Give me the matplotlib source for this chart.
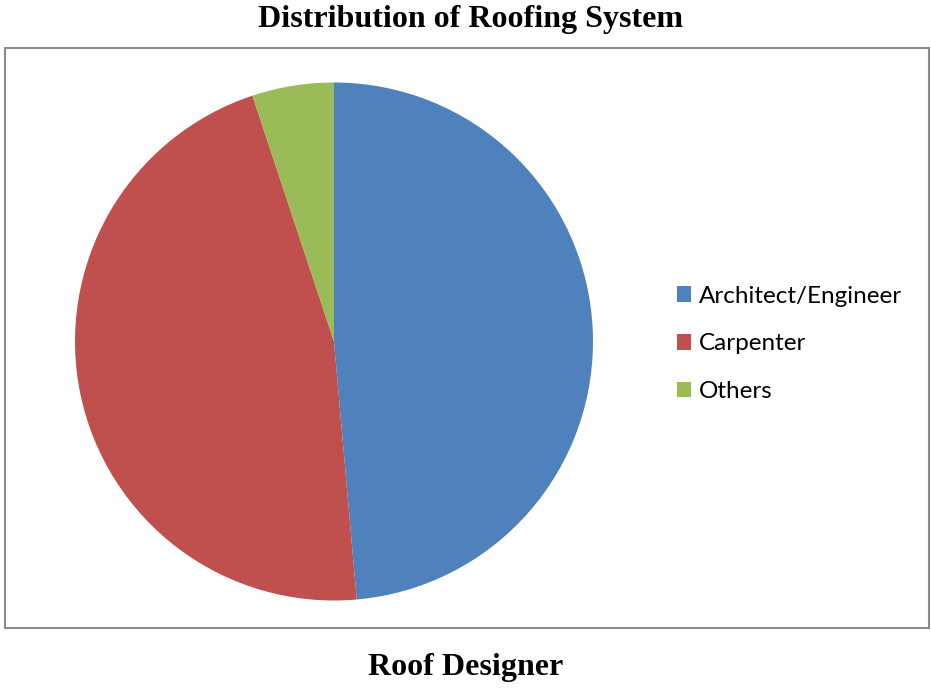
import matplotlib
matplotlib.use("Agg")
import matplotlib.pyplot as plt
from matplotlib.patches import Rectangle, Patch

categories = ["Architect/Engineer", "Carpenter", "Others"]
shares = [48.6, 46.3, 5.1]
colors = ["#4F81BD", "#C0504D", "#9BBB59"]

W, H = 931, 689
fig = plt.figure(figsize=(W / 100, H / 100), dpi=100)

def fx(px):
    return px / W

def fy(py):
    return 1 - py / H

# chart frame
fig.patches.append(Rectangle((fx(5), fy(628)), fx(924), 580 / H,
                             transform=fig.transFigure, fill=False,
                             edgecolor="#8c8c8c", linewidth=1.5))

fig.text(fx(470), fy(19), "Distribution of Roofing System", ha="center", va="center",
         family="Liberation Serif", fontweight="bold", fontsize=23)
fig.text(fx(466), fy(668), "Roof Designer", ha="center", va="center",
         family="Liberation Serif", fontweight="bold", fontsize=23)

cx, cy, r = 334, 341.5, 259
ax = fig.add_axes([fx(cx - r), fy(cy + r), 2 * r / W, 2 * r / H])
ax.pie(shares, colors=colors, startangle=90, counterclock=False,
       wedgeprops=dict(linewidth=0))
ax.set_xlim(-1, 1)
ax.set_ylim(-1, 1)
ax.set_aspect("equal")
ax.axis("off")

handles = [Patch(facecolor=c, edgecolor="none") for c in colors]
fig.legend(handles, categories, loc="upper left", bbox_to_anchor=(fx(667), fy(276)),
           frameon=False, prop=dict(family="Lato", size=17.5),
           handlelength=0.6, handleheight=0.6, handletextpad=0.3,
           labelspacing=1.1, borderaxespad=0)

fig.savefig("out.png", dpi=100)
